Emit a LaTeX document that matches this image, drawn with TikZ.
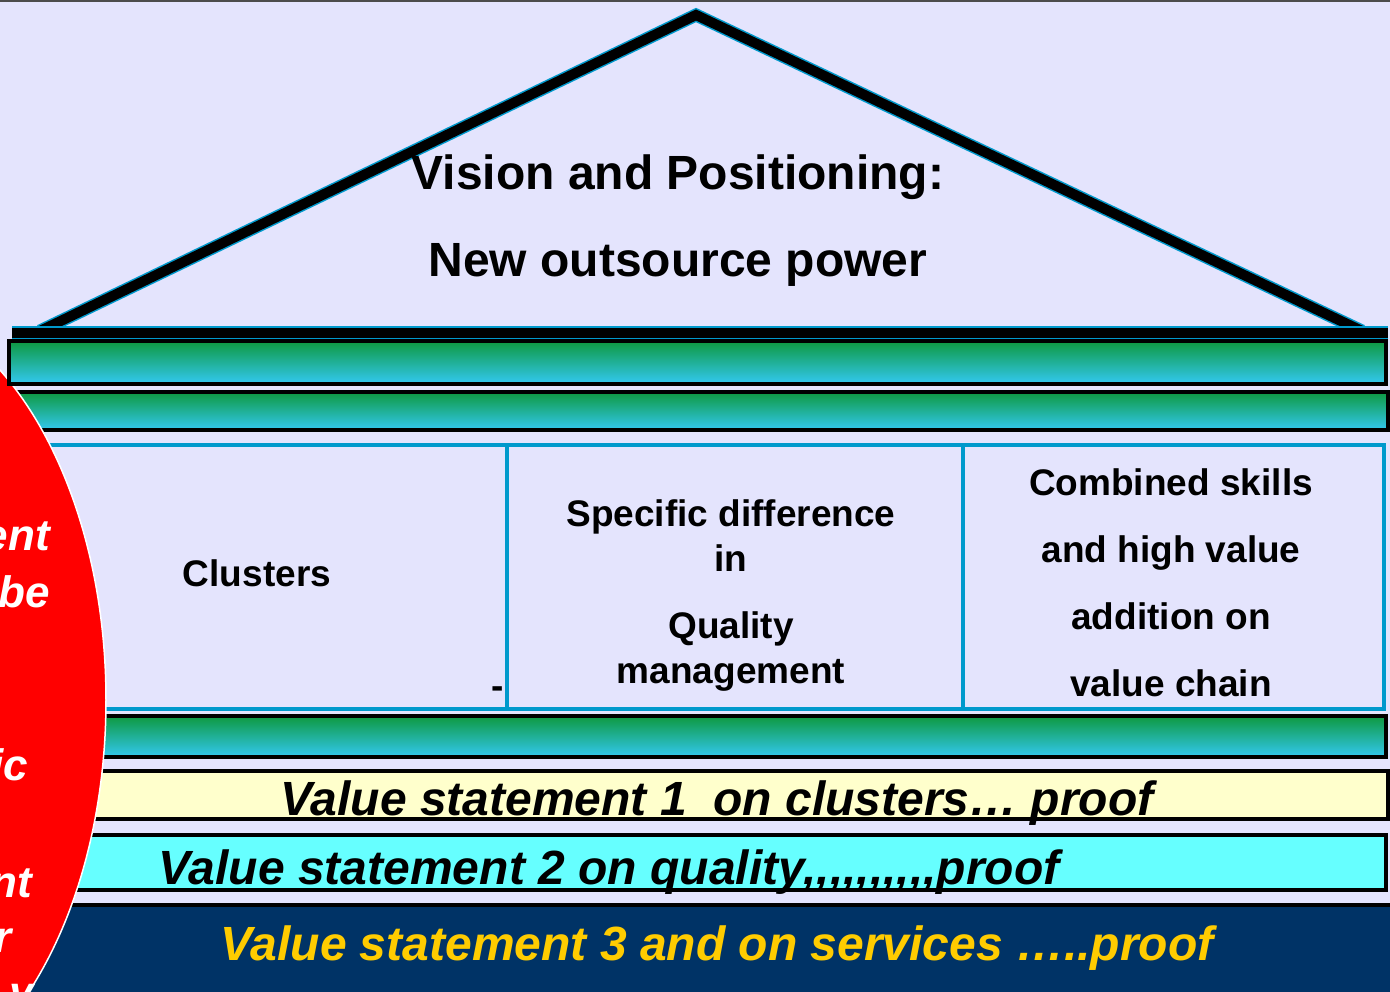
\documentclass[tikz,border=0pt]{standalone}
\usepackage{fontspec}
\setmainfont{Liberation Sans}

\definecolor{bglav}{HTML}{E4E4FD}
\definecolor{pillarblue}{HTML}{0099CC}
\definecolor{beamgreen}{HTML}{0E9940}
\definecolor{beamcyan}{HTML}{33C8F0}
\definecolor{stmtyellow}{HTML}{FFFFCC}
\definecolor{stmtcyan}{HTML}{66FFFF}
\definecolor{stmtnavy}{HTML}{003366}
\definecolor{stmtgold}{HTML}{FFCC00}

% single commas, kept apart so they do not join up
\newcommand{\cm}{,\kern0pt}

\begin{document}
\begin{tikzpicture}[x=1pt, y=-1pt,
  roofline/.style={draw=pillarblue, double=black, double distance=10, line width=1.5, line join=miter},
  beam/.style={draw=black, line width=4, top color=beamgreen, middle color=beamcyan, bottom color=beamcyan},
  pillar/.style={draw=pillarblue, line width=4, fill=bglav},
  band/.style={draw=black, line width=4},
  rooftext/.style={font=\fontsize{48}{58}\selectfont\bfseries, anchor=base},
  coltext/.style={font=\fontsize{37}{45}\selectfont\bfseries, align=center},
  stmt/.style={font=\fontsize{48}{58}\selectfont\bfseries\itshape, anchor=base, inner sep=0},
  redtext/.style={font=\fontsize{44}{54}\selectfont\bfseries\itshape, text=white, anchor=base east, inner sep=0}
]
  \useasboundingbox (0,0) rectangle (1390,992);
  \clip (0,0) rectangle (1390,992);
  \fill[bglav] (0,0) rectangle (1390,992);
  \draw[black!70, line width=2] (0,1) -- (1390,1);

  % roof
  \draw[roofline] (40,331) -- (696,15) -- (1362,331);
  \draw[roofline] (12,333) -- (1388,333);
  \node[rooftext] (vision) at (678,190) {Vision and Positioning:};
  \node[rooftext] (power) at (678,277) {New outsource power};

  % beams and pillars
  \draw[beam] (12,392) rectangle (1388,430);
  \draw[pillar] (20,445) rectangle (507,709);
  \draw[pillar] (507,445) rectangle (963,709);
  \draw[pillar] (963,445) rectangle (1384,709);
  \node[coltext] (clusters) at (257,573) {Clusters};
  \node[coltext] (quality) at (731,596) {Specific difference\\in\\[22pt]Quality\\management};
  \node[coltext, font=\fontsize{37}{67}\selectfont\bfseries] (skills) at (1171,583)
    {Combined skills\\and high value\\addition on\\value chain};
  \node[font=\fontsize{37}{45}\selectfont\bfseries, anchor=base, inner sep=0] (dash) at (498,698) {-};
  \draw[beam] (12,716) rectangle (1386,757);

  % value statements
  \draw[band, fill=stmtyellow] (12,771) rectangle (1388,818.5);
  \node[stmt] (vs1) at (717,815) {Value statement 1\ \ on clusters… proof};
  \draw[band, fill=stmtcyan] (12,835) rectangle (1386,890);
  \node[stmt] (vs2) at (609,884) {Value statement 2 on quality\cm\cm\cm\cm\cm\cm\cm\cm\cm\cm proof};
  \fill[stmtnavy] (0,905) rectangle (1390,992);
  \draw[black, line width=4] (0,905) -- (1390,905);
  \node[stmt, text=stmtgold] (vs3) at (717,960) {Value statement 3 and on services …..proof};

  % red ellipse on the left
  \draw[white, line width=1.5, fill=red] (-138,700) ellipse [x radius=244, y radius=400];
  \node[redtext] (r1) at (50,550) {ent};
  \node[redtext] (r2) at (50,607) {be};
  \node[redtext] (r3) at (28,780) {ic};
  \node[redtext] (r4) at (32,897) {nt};
  \node[redtext] (r5) at (12,952) {r};
  \node[redtext] (r6) at (34,1007) {y};

  % top beam over the ellipse
  \draw[beam] (9,341) rectangle (1386,383.5);
\end{tikzpicture}
\end{document}
